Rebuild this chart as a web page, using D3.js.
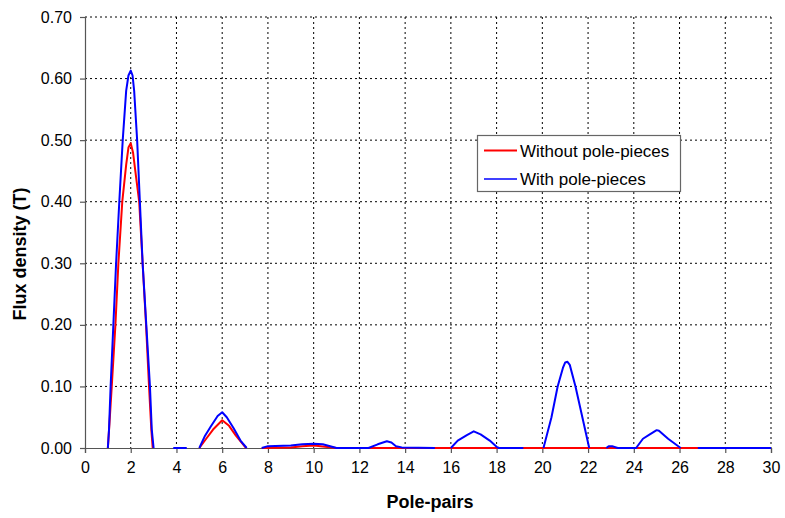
<!DOCTYPE html>
<html>
<head>
<meta charset="utf-8">
<script src="https://cdn.jsdelivr.net/npm/d3@7"></script>
<style>
  html, body { margin: 0; padding: 0; background: #fff; }
  svg { display: block; font-family: "Liberation Sans", Arial, sans-serif; }
</style>
</head>
<body>
<svg id="chart" width="785" height="518"></svg>
<script>
// ---- data ----
const xTicks = [0, 2, 4, 6, 8, 10, 12, 14, 16, 18, 20, 22, 24, 26, 28, 30];
const yTicks = [0, 0.1, 0.2, 0.3, 0.4, 0.5, 0.6, 0.7];
const seriesNames = ["Without pole-pieces", "With pole-pieces"];
const seriesColors = ["#ff0000", "#0000ff"];

// Without pole-pieces (null = gap in the trace)
const withoutX = [1.0, 1.07, 1.17, 1.33, 1.46, 1.63, 1.8, 1.9, 2.0, 2.1, 2.2, 2.37, 2.52, 2.67, 2.8, 2.9, 2.96, 3.0,
  5.0, 5.3, 5.6, 6.0, 6.3, 6.6, 7.0, 7.05, 7.4,
  7.73, 9.0, 9.5, 10.0, 10.5, 11.0, 30.0];
const withoutY = [0, 0.04, 0.10, 0.20, 0.30, 0.40, 0.46, 0.488, 0.495, 0.48, 0.45, 0.40, 0.30, 0.20, 0.10, 0.03, 0, null,
  0, 0.015, 0.03, 0.045, 0.036, 0.02, 0.002, 0, null,
  0, 0.001, 0.003, 0.004, 0.002, 0, 0];

// With pole-pieces
const withX = [1.0, 1.05, 1.12, 1.24, 1.36, 1.5, 1.65, 1.8, 1.9, 2.0, 2.08, 2.15, 2.28, 2.4, 2.52, 2.68, 2.84, 2.92, 3.0, 3.4,
  3.86, 4.45, 4.7,
  5.0, 5.25, 5.5, 5.8, 6.0, 6.2, 6.5, 6.8, 7.07, 7.4,
  7.73, 8.0, 9.0, 9.5, 10.0, 10.4, 11.0, 12.4, 12.8, 13.2, 13.4, 13.6, 13.85, 15.3, 15.6,
  16.0, 16.3, 16.7, 17.0, 17.3, 17.7, 18.0, 18.1, 19.17, 19.6,
  20.05, 20.4, 20.67, 20.9, 21.0, 21.1, 21.2, 21.45, 21.75, 22.05, 22.4,
  22.8, 22.9, 23.05, 23.3, 24.1, 24.4, 24.7, 25.0, 25.1, 25.5, 26.05, 26.4,
  26.8, 30.0];
const withY = [0, 0.03, 0.10, 0.20, 0.30, 0.40, 0.50, 0.58, 0.605, 0.613, 0.605, 0.58, 0.50, 0.40, 0.30, 0.20, 0.10, 0.03, 0, null,
  0, 0, null,
  0, 0.02, 0.035, 0.052, 0.058, 0.05, 0.032, 0.012, 0, null,
  0, 0.003, 0.004, 0.006, 0.007, 0.006, 0, 0, 0.006, 0.011, 0.009, 0.003, 0.001, 0, null,
  0, 0.012, 0.021, 0.027, 0.022, 0.012, 0.002, 0, 0, null,
  0, 0.05, 0.10, 0.13, 0.139, 0.14, 0.135, 0.10, 0.05, 0, null,
  0, 0.003, 0.003, 0, 0, 0.015, 0.022, 0.029, 0.028, 0.015, 0, null,
  0, 0];

// ---- layout ----
const svg = d3.select("#chart");
const mLeft = 85, mRight = 771, mTop = 17, mBottom = 448;

const x = d3.scaleLinear().domain([0, 30]).range([mLeft, mRight]);
const y = d3.scaleLinear().domain([0, 0.7]).range([mBottom, mTop]);

// gridlines (dotted)
const grid = svg.append("g");
grid.selectAll("line.h").data(yTicks.filter(d => d > 0)).join("line")
  .attr("x1", mLeft).attr("x2", mRight)
  .attr("y1", d => y(d)).attr("y2", d => y(d))
  .attr("stroke", "#000").attr("stroke-width", 1).attr("stroke-dasharray", "2,3");
grid.selectAll("line.v").data(xTicks.filter(d => d > 0)).join("line")
  .attr("y1", mTop).attr("y2", mBottom)
  .attr("x1", d => x(d)).attr("x2", d => x(d))
  .attr("stroke", "#000").attr("stroke-width", 1).attr("stroke-dasharray", "2,3");

// axes
const xAxis = d3.axisBottom(x).tickValues(xTicks).tickFormat(d3.format("d")).tickSize(5).tickPadding(9);
const yAxis = d3.axisLeft(y).tickValues(yTicks).tickFormat(d3.format(".2f")).tickSize(5).tickPadding(8);

const gx = svg.append("g").attr("transform", `translate(0,${mBottom})`).call(xAxis);
const gy = svg.append("g").attr("transform", `translate(${mLeft},0)`).call(yAxis);
[gx, gy].forEach(g => {
  g.select(".domain").attr("stroke", "#555").attr("stroke-width", 1.2);
  g.selectAll(".tick line").attr("stroke", "#555").attr("stroke-width", 1.2);
  g.selectAll("text").attr("font-size", 16).attr("fill", "#000")
    .attr("font-family", "'Liberation Sans', Arial, sans-serif");
});

// series
const line = d3.line()
  .defined(d => d[1] !== null)
  .x(d => x(d[0])).y(d => y(d[1]));

const series = [
  withoutX.map((v, i) => [v, withoutY[i]]),
  withX.map((v, i) => [v, withY[i]])
];
series.forEach((pts, i) => {
  svg.append("path").datum(pts)
    .attr("fill", "none")
    .attr("stroke", seriesColors[i])
    .attr("stroke-width", 2)
    .attr("stroke-linejoin", "round")
    .attr("d", line);
});

// axis titles
svg.append("text")
  .attr("x", (mLeft + mRight) / 2 + 2).attr("y", 508)
  .attr("text-anchor", "middle")
  .attr("font-size", 18).attr("font-weight", "bold")
  .text("Pole-pairs");

svg.append("text")
  .attr("transform", "translate(26,254) rotate(-90)")
  .attr("text-anchor", "middle")
  .attr("font-size", 18).attr("font-weight", "bold")
  .text("Flux density (T)");

// legend
const lg = svg.append("g");
lg.append("rect")
  .attr("x", 477.5).attr("y", 135.5).attr("width", 203).attr("height", 56)
  .attr("fill", "#fff").attr("stroke", "#666").attr("stroke-width", 1.2);
seriesNames.forEach((name, i) => {
  const yy = 150.5 + i * 28.5;
  lg.append("line")
    .attr("x1", 484).attr("x2", 517).attr("y1", yy).attr("y2", yy)
    .attr("stroke", seriesColors[i]).attr("stroke-width", i === 0 ? 2 : 1.5);
  lg.append("text")
    .attr("x", 520).attr("y", yy + 6)
    .attr("font-size", 17)
    .text(name);
});
</script>
</body>
</html>
